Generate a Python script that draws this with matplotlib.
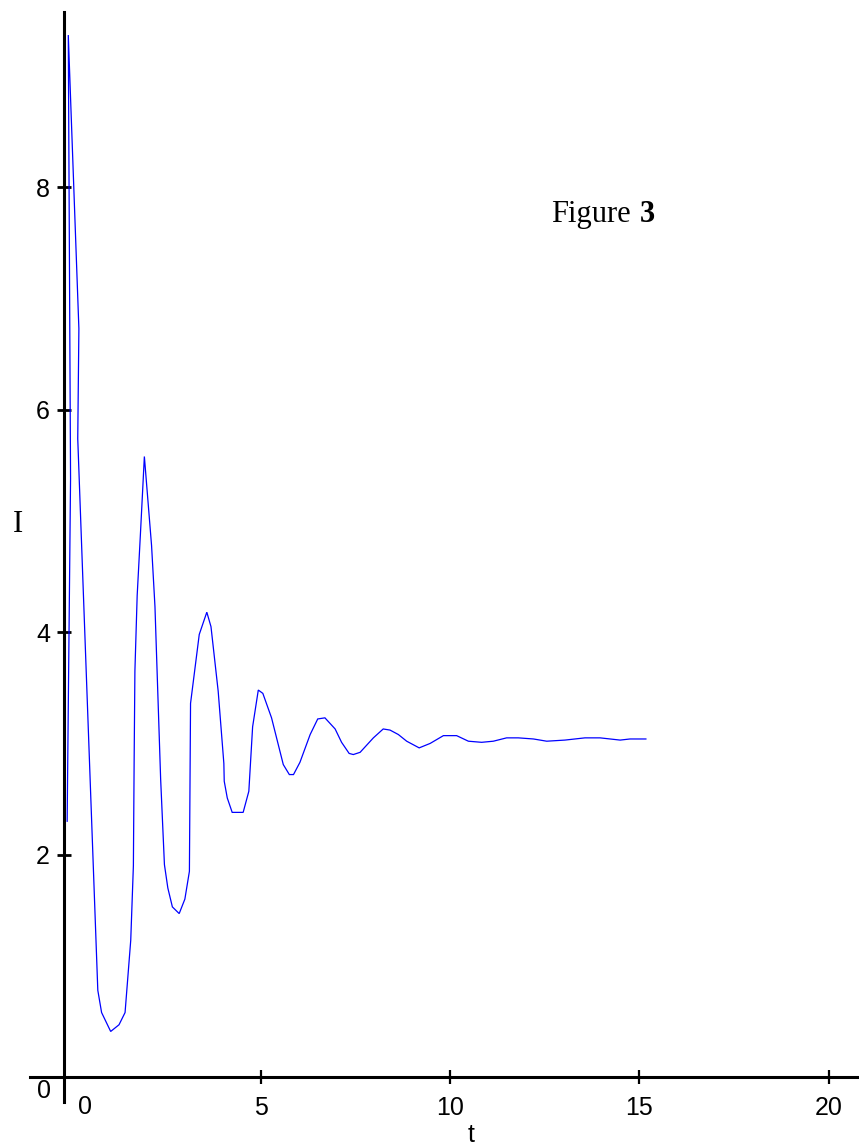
"""
Damped oscillation of I(t) settling to ~3 (Figure 3).

Axes cross near the origin, Maple-style, with the curve drawn as a thin blue
polyline read off the original plot.
"""
import matplotlib
matplotlib.use("Agg")
import matplotlib.pyplot as plt


# curve samples (t, I)
t_vals = [
    -0.12, -0.03, -0.09, 0.19, 0.16, 0.69, 0.79, 1.03, 1.25, 1.41,
    1.56, 1.63, 1.65, 1.67, 1.73, 1.82, 1.92, 2.11, 2.20, 2.35,
    2.45, 2.54, 2.66, 2.84, 2.99, 3.11, 3.14, 3.37, 3.57, 3.68,
    3.87, 4.02, 4.03, 4.11, 4.24, 4.53, 4.68, 4.78, 4.93, 5.05,
    5.28, 5.59, 5.75, 5.86, 6.03, 6.30, 6.50, 6.69, 6.96, 7.13,
    7.33, 7.44, 7.62, 7.97, 8.23, 8.41, 8.63, 8.85, 9.18, 9.47,
    9.82, 10.17, 10.48, 10.83, 11.14, 11.49, 11.80, 12.20, 12.55, 13.03,
    13.56, 13.96, 14.49, 14.75, 15.17,
]
i_vals = [
    2.30, 5.38, 9.37, 6.73, 5.74, 0.78, 0.58, 0.41, 0.47, 0.58,
    1.23, 1.90, 2.85, 3.65, 4.33, 4.91, 5.58, 4.78, 4.23, 2.68,
    1.91, 1.70, 1.53, 1.47, 1.60, 1.85, 3.36, 3.98, 4.18, 4.05,
    3.47, 2.82, 2.66, 2.51, 2.38, 2.38, 2.57, 3.15, 3.48, 3.45,
    3.23, 2.81, 2.72, 2.72, 2.83, 3.08, 3.22, 3.23, 3.13, 3.01,
    2.91, 2.90, 2.92, 3.05, 3.13, 3.12, 3.08, 3.02, 2.96, 3.00,
    3.07, 3.07, 3.02, 3.01, 3.02, 3.05, 3.05, 3.04, 3.02, 3.03,
    3.05, 3.05, 3.03, 3.04, 3.04,
]

x_ticks = [5, 10, 15, 20]
y_ticks = [2, 4, 6, 8]

SANS = "Liberation Sans"
SERIF = "Liberation Serif"


def build_figure(output_path):
    fig = plt.figure(figsize=(8.59, 11.48), dpi=100)
    ax = fig.add_axes([0, 0, 1, 1])
    ax.set_xlim(-1.894, 20.80)
    ax.set_ylim(-0.638, 9.685)

    ax.plot(t_vals, i_vals, color="#0000ff", lw=0.9, solid_joinstyle="miter")

    # crossing axes
    for side in ("top", "right"):
        ax.spines[side].set_visible(False)
    ax.spines["left"].set_position(("data", -0.203))
    ax.spines["bottom"].set_position(("data", 0.0))
    ax.spines["left"].set_bounds(-0.225, 9.577)
    ax.spines["bottom"].set_bounds(-1.10, 20.80)
    for side in ("left", "bottom"):
        ax.spines[side].set_linewidth(2.2)
        ax.spines[side].set_zorder(1)

    ax.set_xticks(x_ticks)
    ax.set_yticks(y_ticks)
    ax.set_xticklabels([str(v) for v in x_ticks], fontfamily=SANS, fontsize=18)
    ax.set_yticklabels([str(v) for v in y_ticks], fontfamily=SANS, fontsize=18)
    ax.tick_params(axis="x", direction="inout", length=10, width=1.6, pad=9)
    ax.tick_params(axis="y", direction="inout", length=10, width=2.0, pad=5)

    # origin labels sit apart from the ticks
    ax.text(-0.73, -0.126, "0", fontfamily=SANS, fontsize=18, ha="center", va="center")
    ax.text(0.35, -0.27, "0", fontfamily=SANS, fontsize=18, ha="center", va="center")

    # axis titles
    ax.text(10.56, -0.625, "t", fontfamily=SANS, fontsize=18, ha="center", va="bottom")
    ax.text(-1.42, 4.97, "I", fontfamily=SERIF, fontsize=22, ha="center", va="center")

    ax.text(12.66, 7.69, "Figure", fontfamily=SERIF, fontsize=22, ha="left", va="baseline")
    ax.text(15.0, 7.69, "3", fontfamily=SERIF, fontsize=22, fontweight="bold",
            ha="left", va="baseline")

    fig.savefig(output_path, dpi=100)
    plt.close(fig)


if __name__ == "__main__":
    build_figure("out.png")
